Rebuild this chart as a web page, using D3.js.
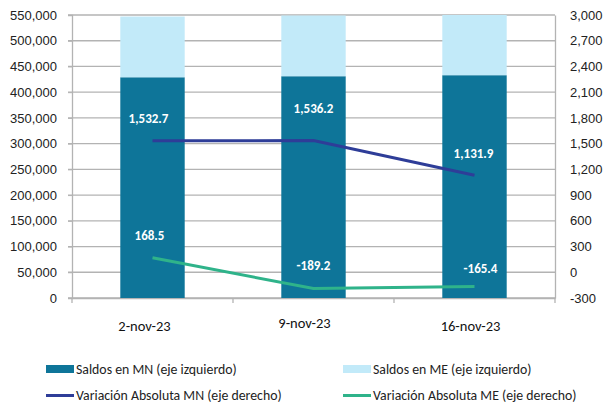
<!DOCTYPE html>
<html><head><meta charset="utf-8">
<script src="https://cdn.jsdelivr.net/npm/d3@7"></script>
<style>
body{margin:0;background:#fff;}
svg{display:block;font-family:Carlito,Lato,"Liberation Sans",sans-serif;}
</style></head>
<body><svg id="c" width="605" height="404"></svg>
<script>
const categories = ["2-nov-23", "9-nov-23", "16-nov-23"];
const saldosMN = [429000, 431000, 433000];
const saldosME = [118000, 118000, 117000];
const varMN = [1532.7, 1536.2, 1131.9];
const varME = [168.5, -189.2, -165.4];
const leftTicks = d3.range(0, 550001, 50000);
const rightTicks = d3.range(-300, 3001, 300);
const seriesNames = ["Saldos en MN (eje izquierdo)", "Saldos en ME (eje izquierdo)",
  "Variación Absoluta MN (eje derecho)", "Variación Absoluta ME (eje derecho)"];

const colMN = "#0e7599", colME = "#c2eaf9", colLMN = "#2e3d98", colLME = "#2fb38a";
const grid = "#b3b3b3";
const L = 72, R = 555, T = 15, B = 298;
const svg = d3.select("#c");

const x = d3.scaleBand().domain(categories).range([L, R]).paddingInner(0).paddingOuter(0);
const yL = d3.scaleLinear().domain([0, 550000]).range([B, T]);
const yR = d3.scaleLinear().domain([-300, 3000]).range([B, T]);
const hy = s => s.replace(/\u2212/g, "-");
const fmtL = d => hy(d3.format(",")(d));
const fmtV = d => hy(d3.format(",.1f")(d));

// gridlines
svg.append("g").selectAll("line").data(leftTicks).join("line")
  .attr("x1", L - 4).attr("x2", R).attr("y1", d => yL(d)).attr("y2", d => yL(d))
  .attr("stroke", grid).attr("stroke-width", 1.3);

// left axis
const gl = svg.append("g").attr("transform", `translate(${L},0)`)
  .call(d3.axisLeft(yL).tickValues(leftTicks).tickFormat(fmtL).tickSize(4).tickPadding(11));
gl.select(".domain").attr("stroke", grid).attr("stroke-width", 1.3);
gl.selectAll(".tick line").attr("stroke", grid);
gl.selectAll("text").attr("font-size", 13).attr("fill", "#222");

// right axis
const gr = svg.append("g").attr("transform", `translate(${R},0)`)
  .call(d3.axisRight(yR).tickValues(rightTicks).tickFormat(fmtL).tickSize(0).tickPadding(15));
gr.select(".domain").attr("stroke", grid).attr("stroke-width", 1.3);
gr.selectAll("text").attr("font-size", 13).attr("fill", "#222");

// bottom axis
const gb = svg.append("g").attr("transform", `translate(0,${B})`)
  .call(d3.axisBottom(x).tickSize(0).tickFormat(""));
gb.select(".domain").attr("stroke", grid).attr("stroke-width", 1.3);
svg.append("g").selectAll("line").data(d3.range(categories.length + 1)).join("line")
  .attr("x1", i => L + i * x.step()).attr("x2", i => L + i * x.step())
  .attr("y1", B).attr("y2", B + 5).attr("stroke", grid).attr("stroke-width", 1.3);
const catNudge = [[-8, 331], [-9, 328], [-4, 331]];
svg.append("g").selectAll("text").data(categories).join("text")
  .attr("x", (d, i) => x(d) + x.bandwidth() / 2 + catNudge[i][0])
  .attr("y", (d, i) => catNudge[i][1])
  .attr("text-anchor", "middle").attr("font-size", 14.5).attr("fill", "#111").text(d => d);

// bars
const bw = x.bandwidth() * 0.4;
const bars = svg.append("g");
bars.selectAll(".mn").data(categories).join("rect")
  .attr("x", d => x(d) + x.bandwidth() / 2 - bw / 2).attr("width", bw)
  .attr("y", (d, i) => yL(saldosMN[i])).attr("height", (d, i) => B - yL(saldosMN[i]))
  .attr("fill", colMN);
bars.selectAll(".me").data(categories).join("rect").attr("class", "me")
  .attr("x", d => x(d) + x.bandwidth() / 2 - bw / 2).attr("width", bw)
  .attr("y", (d, i) => yL(saldosMN[i] + saldosME[i]))
  .attr("height", (d, i) => yL(saldosMN[i]) - yL(saldosMN[i] + saldosME[i]))
  .attr("fill", colME);

// lines
const cx = d => x(d) + x.bandwidth() / 2;
function drawLine(vals, col) {
  const line = d3.line().x((d, i) => cx(categories[i])).y(d => yR(d));
  svg.append("path").datum(vals).attr("d", line).attr("fill", "none")
    .attr("stroke", col).attr("stroke-width", 3);
}
drawLine(varMN, colLMN);
drawLine(varME, colLME);

// labels
const nudgeMN = [[-4, -18], [0, -28], [-1, -17]];
const nudgeME = [[-3, -18], [0, -18], [6, -13]];
function labels(vals, nudge) {
  svg.append("g").selectAll("text").data(vals).join("text")
    .attr("x", (d, i) => cx(categories[i]) + nudge[i][0])
    .attr("y", (d, i) => yR(d) + nudge[i][1])
    .attr("text-anchor", "middle").attr("font-size", 13).attr("font-weight", "bold")
    .attr("fill", "#fff").text(d => fmtV(d));
}
labels(varMN, nudgeMN);
labels(varME, nudgeME);

// legend
const leg = [
  {n: seriesNames[0], c: colMN, t: "rect", x: 46, y: 369},
  {n: seriesNames[1], c: colME, t: "rect", x: 343, y: 369},
  {n: seriesNames[2], c: colLMN, t: "line", x: 46, y: 395.5},
  {n: seriesNames[3], c: colLME, t: "line", x: 343, y: 395.5}
];
const lg = svg.append("g").selectAll("g").data(leg).join("g")
  .attr("transform", d => `translate(${d.x},${d.y})`);
lg.filter(d => d.t === "rect").append("rect").attr("x", 0).attr("y", -4).attr("width", 28).attr("height", 8).attr("fill", d => d.c);
lg.filter(d => d.t === "line").append("line").attr("x1", 0).attr("x2", 28).attr("y1", 0).attr("y2", 0).attr("stroke", d => d.c).attr("stroke-width", 3);
lg.append("text").attr("x", 30).attr("y", 4.5).attr("font-size", 13.8).attr("fill", "#222").text(d => d.n);
</script></body></html>
